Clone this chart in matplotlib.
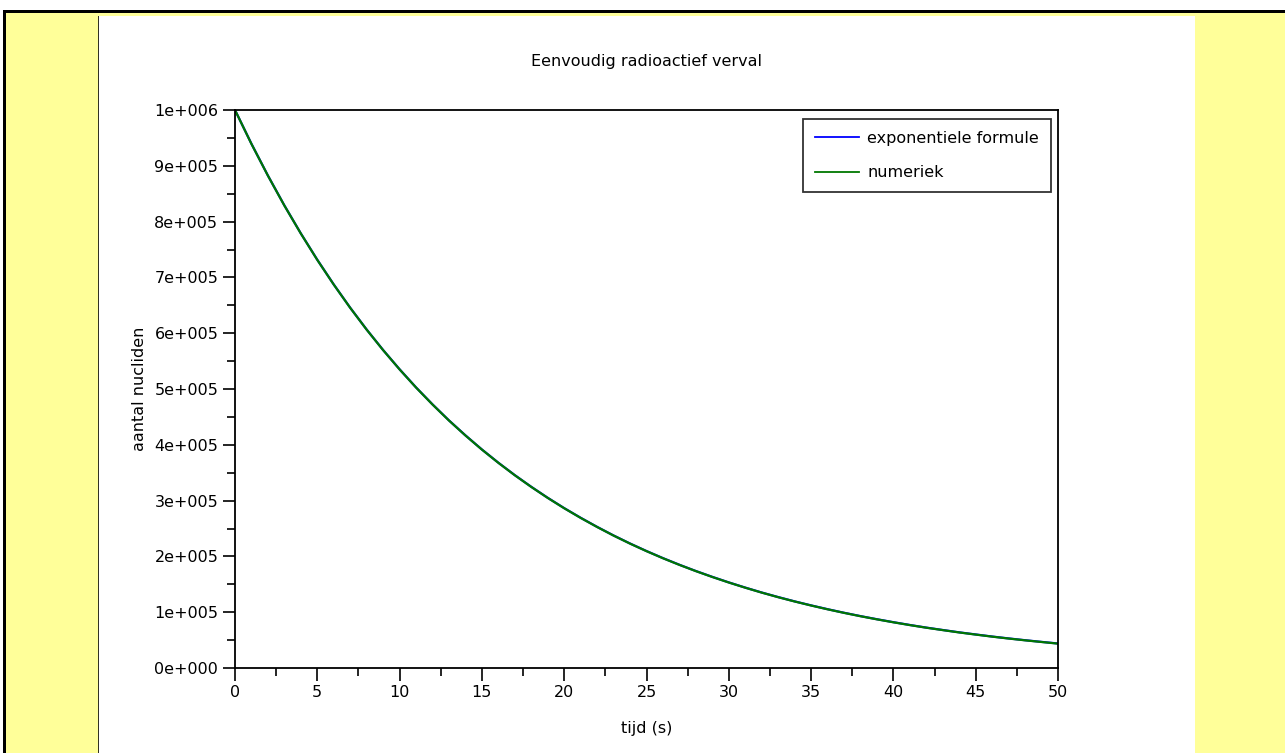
import matplotlib
matplotlib.use("Agg")
import matplotlib.pyplot as plt
from matplotlib.patches import Rectangle
from matplotlib.ticker import MultipleLocator, FuncFormatter

plt.rcParams['font.family'] = ['DejaVu Sans']

title = "Eenvoudig radioactief verval"
xlabel = "tijd (s)"
ylabel = "aantal nucliden"
series_names = ["exponentiele formule", "numeriek"]

t = list(range(0, 51))
exact = [1000000, 939400, 882500, 829000, 778800, 731600, 687300, 645600, 606500, 569800,
         535300, 502800, 472400, 443700, 416900, 391600, 367900, 345600, 324700, 305000,
         286500, 269200, 252900, 237500, 223100, 209600, 196900, 185000, 173800, 163300,
         153400, 144100, 135300, 127100, 119400, 112200, 105400, 99000, 93000, 87400,
         82100, 77100, 72400, 68100, 63900, 60100, 56400, 53000, 49800, 46800, 43900]
numeric = [1000000, 939200, 882300, 828700, 778600, 731300, 687100, 645400, 606300, 569600,
           535100, 502600, 472200, 443500, 416700, 391400, 367700, 345400, 324500, 304800,
           286300, 269000, 252700, 237300, 222900, 209400, 196700, 184800, 173600, 163100,
           153200, 143900, 135100, 126900, 119200, 112000, 105200, 98800, 92800, 87200,
           81900, 76900, 72200, 67900, 63700, 59900, 56200, 52800, 49600, 46600, 43700]

W, H = 1285, 753
fig = plt.figure(figsize=(W / 100, H / 100), dpi=100)
fig.patch.set_facecolor('white')

def fr(x0, y0, x1, y1, color):
    fig.patches.append(Rectangle((x0 / W, 1 - y1 / H), (x1 - x0) / W, (y1 - y0) / H,
                                 transform=fig.transFigure, facecolor=color,
                                 edgecolor='none', zorder=0))

fr(3, 10, W, H, 'black')
fr(6, 13, W, H, '#FFFF99')
fr(98, 16, 1195, H, '#333322')
fr(99, 16, 1195, H, 'white')

FS = 11.5
ax = fig.add_axes([235 / W, 1 - 668 / H, (1058 - 235) / W, (668 - 110) / H])
ax.set_zorder(2)
ax.plot(t, exact, color='#0000FF', lw=1.6, label=series_names[0])
ax.plot(t, numeric, color='#007700', lw=1.6, label=series_names[1])
ax.set_xlim(0, 50)
ax.set_ylim(0, 1000000)

ax.xaxis.set_major_locator(MultipleLocator(5))
ax.xaxis.set_minor_locator(MultipleLocator(2.5))
ax.yaxis.set_major_locator(MultipleLocator(100000))
ax.yaxis.set_minor_locator(MultipleLocator(50000))

def yfmt(v, pos):
    if v == 0:
        return "0e+000"
    e = 0
    m = v
    while abs(m) >= 10:
        m /= 10
        e += 1
    return "%de+%03d" % (round(m), e)

ax.yaxis.set_major_formatter(FuncFormatter(yfmt))
ax.tick_params(which='major', direction='out', length=9, width=1.2, labelsize=FS, pad=3)
ax.tick_params(which='minor', direction='out', length=6, width=1.2)
for s in ax.spines.values():
    s.set_linewidth(1.3)

ax.set_title(title, fontsize=FS, pad=32)
ax.set_xlabel(xlabel, fontsize=FS, labelpad=15)
ax.set_ylabel(ylabel, fontsize=FS, labelpad=5)

leg = ax.legend(loc='upper right', bbox_to_anchor=(1051 / W, 1 - 119 / H),
                bbox_transform=fig.transFigure, fontsize=FS, frameon=True,
                fancybox=False, edgecolor='black', handlelength=2.8,
                borderpad=0.75, labelspacing=1.2, handletextpad=0.5, borderaxespad=0)
leg.get_frame().set_linewidth(1.3)
for l in leg.get_lines():
    l.set_linewidth(1.3)

fig.savefig("out.png", dpi=100)
